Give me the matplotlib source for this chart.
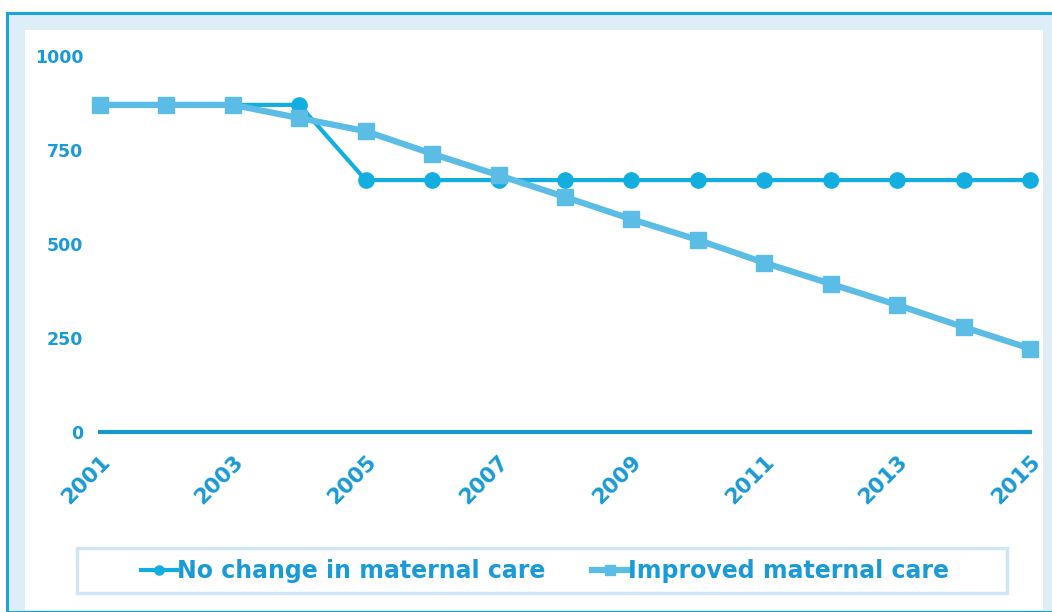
import matplotlib
matplotlib.use("Agg")
import matplotlib.pyplot as plt
from matplotlib.patches import Rectangle

years = list(range(2001, 2016))
no_change = [870, 870, 870, 870, 670, 670, 670, 670, 670, 670, 670, 670, 670, 670, 670]
improved = [870, 870, 870, 835, 800, 740, 683, 625, 566, 511, 450, 394, 338, 279, 222]
y_ticks = [0, 250, 500, 750, 1000]
x_ticks = [2001, 2003, 2005, 2007, 2009, 2011, 2013, 2015]

dark = "#12aee0"
light = "#5bbde6"
text_col = "#1a9ad6"
axis_col = "#1799d0"
band = "#ddeef8"

W, H = 1052, 612
fig = plt.figure(figsize=(W / 100, H / 100), dpi=100)
fig.patch.set_facecolor("white")

# outer frame: blue border, pale band, white panel, legend box
fig.patches.append(Rectangle((7 / W, 0), 1, 1 - 13 / H, transform=fig.transFigure,
                             facecolor=band, edgecolor="#1aa3dc", linewidth=2.2, zorder=-10))
fig.patches.append(Rectangle((25 / W, 1 - 610 / H), (1043 - 25) / W, (610 - 30) / H,
                             transform=fig.transFigure, facecolor="white",
                             edgecolor="none", zorder=-9))
fig.patches.append(Rectangle((77 / W, 1 - 593 / H), (1007 - 77) / W, 45 / H,
                             transform=fig.transFigure, facecolor="white",
                             edgecolor="#cfe6f4", linewidth=2.5, zorder=-8))

ax = fig.add_axes([100 / W, 1 - 432 / H, 930 / W, 376 / H])
ax.set_facecolor("none")

ax.plot(years, no_change, color=dark, lw=3, marker="o", ms=11,
        label="No change in maternal care", clip_on=False, zorder=2)
ax.plot(years, improved, color=light, lw=4.5, marker="s", ms=12,
        label="Improved maternal care", clip_on=False, zorder=3)

ax.set_xlim(2001, 2015)
ax.set_ylim(0, 1000)
for s in ["top", "right", "left"]:
    ax.spines[s].set_visible(False)
ax.spines["bottom"].set_color(axis_col)
ax.spines["bottom"].set_linewidth(3)

ax.set_yticks(y_ticks)
ax.set_yticklabels([str(v) for v in y_ticks], fontsize=12.5, fontweight="bold", color=text_col)
ax.set_xticks(x_ticks)
ax.set_xticklabels([str(v) for v in x_ticks], fontsize=15.5, fontweight="bold", color=text_col,
                   rotation=45, ha="right", rotation_mode="anchor")
ax.tick_params(axis="y", length=0, pad=12)
ax.tick_params(axis="x", length=0, pad=14)

leg = ax.legend(loc="center", bbox_to_anchor=(545 / W, 1 - 571 / H),
                bbox_transform=fig.transFigure, ncol=2, frameon=False,
                handlelength=1.5, handletextpad=0.0, columnspacing=2.0,
                borderaxespad=0, prop={"weight": "bold", "size": 17}, markerscale=0.6)
for t in leg.get_texts():
    t.set_color(text_col)

fig.savefig("out.png", dpi=100)
